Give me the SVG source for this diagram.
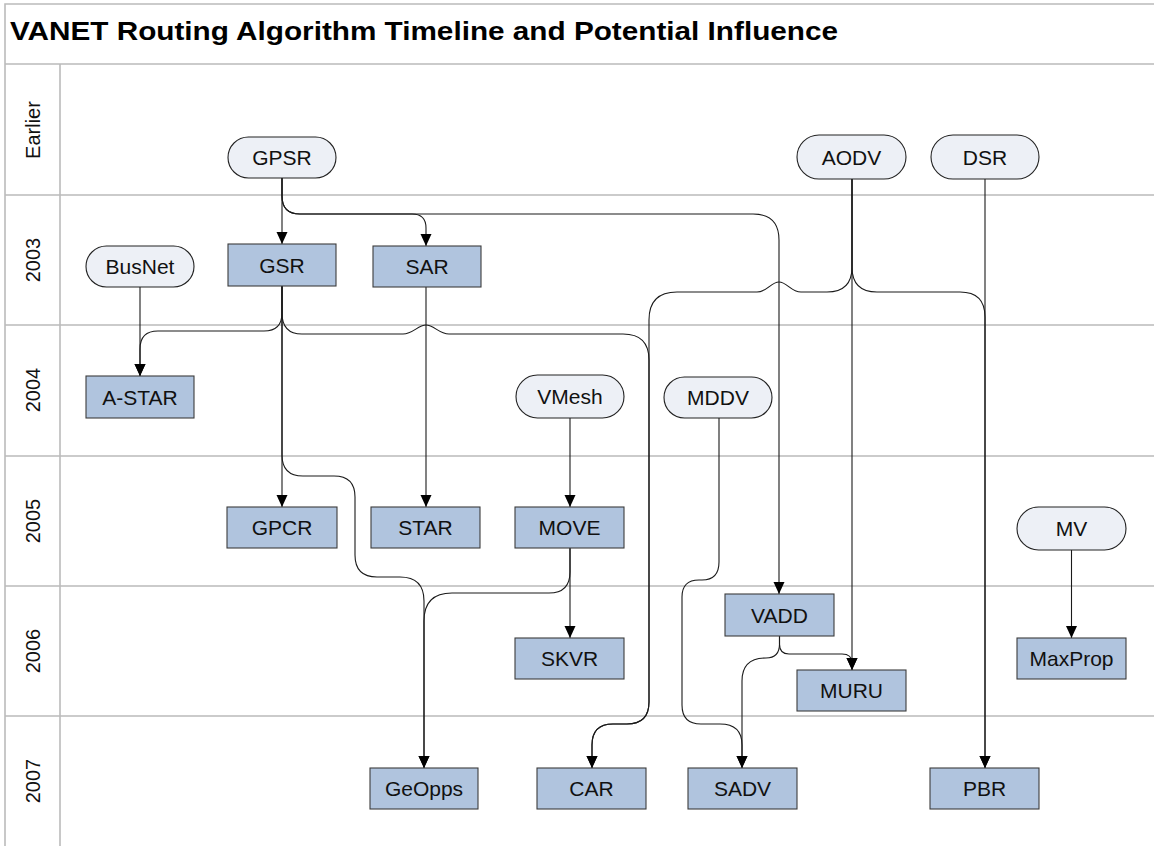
<svg xmlns="http://www.w3.org/2000/svg" width="1154" height="846" viewBox="0 0 1154 846">
<style>
.frame{stroke:#BBBBBB;stroke-width:1.6;fill:none}
.pill{fill:#EDF0F6;stroke:#222;stroke-width:1.1}
.box{fill:#B0C4DE;stroke:#3C3C3C;stroke-width:1.1}
.lbl{font-family:"Liberation Sans",Arial,sans-serif;font-size:21px;fill:#111;text-anchor:middle}
.lane{font-family:"Liberation Sans",Arial,sans-serif;font-size:20px;fill:#111;text-anchor:middle}
.title{font-family:"Liberation Sans",Arial,sans-serif;font-size:25px;font-weight:bold;fill:#000}
.c{fill:none;stroke:#1A1A1A;stroke-width:1.1}
</style>
<defs>
<marker id="arr" markerUnits="userSpaceOnUse" markerWidth="12" markerHeight="12" refX="12" refY="5.5" orient="auto">
<path d="M0,0 L12,5.5 L0,11 z" fill="#000"/>
</marker>
</defs>
<rect width="1154" height="846" fill="#fff"/>
<g id="frame">
<path class="frame" d="M5,846 V4 H1154 M5,64 H1154 M60,64 V846 M5,195 H1154 M5,325 H1154 M5,456 H1154 M5,586 H1154 M5,716 H1154"/>
<text class="title" x="10" y="40" textLength="828" lengthAdjust="spacingAndGlyphs">VANET Routing Algorithm Timeline and Potential Influence</text>
<text class="lane" transform="translate(40,130) rotate(-90)">Earlier</text>
<text class="lane" transform="translate(40,260) rotate(-90)">2003</text>
<text class="lane" transform="translate(40,390) rotate(-90)">2004</text>
<text class="lane" transform="translate(40,521) rotate(-90)">2005</text>
<text class="lane" transform="translate(40,651) rotate(-90)">2006</text>
<text class="lane" transform="translate(40,781) rotate(-90)">2007</text>
</g>
<g id="connectors">
<path class="c" d="M282,178 V244" marker-end="url(#arr)"/>
<path class="c" d="M282,178 V196 Q282,214 300,214 H412 Q426,214 426,228 V246" marker-end="url(#arr)"/>
<path class="c" d="M282,178 V196 Q282,214 300,214 H753 Q779,214 779,240 V594" marker-end="url(#arr)"/>
<path class="c" d="M140,287 V376" marker-end="url(#arr)"/>
<path class="c" d="M282,286 V313 Q282,331 264,331 H158 Q140,331 140,349 V376" marker-end="url(#arr)"/>
<path class="c" d="M282,286 V313 Q282,334 302,334 H403 C413,334 418,325 426,325 C434,325 439,334 449,334 H623 Q649,334 649,360 V702 Q649,724 627,724 H613 Q592,724 592,745 V768" marker-end="url(#arr)"/>
<path class="c" d="M282,286 V507" marker-end="url(#arr)"/>
<path class="c" d="M282,286 V455 Q282,476 303,476 H334 Q355,476 355,497 V555 Q355,577 377,577 H400 Q424,577 424,601 V768" marker-end="url(#arr)"/>
<path class="c" d="M426,287 V507" marker-end="url(#arr)"/>
<path class="c" d="M570,418 V507" marker-end="url(#arr)"/>
<path class="c" d="M570,548 V638" marker-end="url(#arr)"/>
<path class="c" d="M570,548 V572 Q570,593 549,593 H452 Q424,593 424,621 V768" marker-end="url(#arr)"/>
<path class="c" d="M852,179 V267 Q852,292 827,292 H801 C791,292 787,282 779,282 C771,282 767,292 757,292 H677 Q649,292 649,320 V702 Q649,724 627,724 H613 Q592,724 592,745 V768" marker-end="url(#arr)"/>
<path class="c" d="M852,179 V267 Q852,292 877,292 H960 Q985,292 985,317 V768" marker-end="url(#arr)"/>
<path class="c" d="M985,179 V768" marker-end="url(#arr)"/>
<path class="c" d="M852,179 V670" marker-end="url(#arr)"/>
<path class="c" d="M719,418 V562 Q719,580 702,580 H699 Q682,580 682,597 V705 Q682,724 701,724 H720 Q742,724 742,745 V768" marker-end="url(#arr)"/>
<path class="c" d="M779.5,636 V644 Q779.5,658 766,658 Q742,658 742,681 V768" marker-end="url(#arr)"/>
<path class="c" d="M779.5,636 V644 Q779.5,654 789,654 H842 Q852,654 852,663 V670" marker-end="url(#arr)"/>
<path class="c" d="M1071.5,550 V638" marker-end="url(#arr)"/>
</g>
<g id="GPSR"><rect class="pill" x="228" y="137" width="108" height="41" rx="20.5"/><text class="lbl" x="282" y="165">GPSR</text></g>
<g id="AODV"><rect class="pill" x="797" y="135" width="109" height="44" rx="22"/><text class="lbl" x="851.5" y="164.5">AODV</text></g>
<g id="DSR"><rect class="pill" x="931" y="135" width="108" height="44" rx="22"/><text class="lbl" x="985" y="164.5">DSR</text></g>
<g id="BusNet"><rect class="pill" x="86" y="246" width="108" height="41" rx="20.5"/><text class="lbl" x="140" y="274">BusNet</text></g>
<g id="VMesh"><rect class="pill" x="516" y="375" width="108" height="43" rx="21.5"/><text class="lbl" x="570" y="404">VMesh</text></g>
<g id="MDDV"><rect class="pill" x="664" y="377" width="108" height="41" rx="20.5"/><text class="lbl" x="718" y="405">MDDV</text></g>
<g id="MV"><rect class="pill" x="1017" y="507" width="109" height="43" rx="21.5"/><text class="lbl" x="1071.5" y="536">MV</text></g>
<g id="GSR"><rect class="box" x="228" y="244" width="108" height="42"/><text class="lbl" x="282" y="272.5">GSR</text></g>
<g id="SAR"><rect class="box" x="373" y="246" width="108" height="41"/><text class="lbl" x="427" y="274">SAR</text></g>
<g id="A-STAR"><rect class="box" x="86" y="376" width="108" height="42"/><text class="lbl" x="140" y="404.5">A-STAR</text></g>
<g id="GPCR"><rect class="box" x="227" y="507" width="110" height="41"/><text class="lbl" x="282" y="535">GPCR</text></g>
<g id="STAR"><rect class="box" x="371" y="507" width="109" height="41"/><text class="lbl" x="425.5" y="535">STAR</text></g>
<g id="MOVE"><rect class="box" x="515" y="507" width="109" height="41"/><text class="lbl" x="569.5" y="535">MOVE</text></g>
<g id="SKVR"><rect class="box" x="515" y="638" width="109" height="41"/><text class="lbl" x="569.5" y="666">SKVR</text></g>
<g id="VADD"><rect class="box" x="725" y="594" width="109" height="42"/><text class="lbl" x="779.5" y="622.5">VADD</text></g>
<g id="MURU"><rect class="box" x="797" y="670" width="109" height="41"/><text class="lbl" x="851.5" y="698">MURU</text></g>
<g id="MaxProp"><rect class="box" x="1017" y="638" width="109" height="41"/><text class="lbl" x="1071.5" y="666">MaxProp</text></g>
<g id="GeOpps"><rect class="box" x="370" y="768" width="108" height="41"/><text class="lbl" x="424" y="796">GeOpps</text></g>
<g id="CAR"><rect class="box" x="537" y="768" width="109" height="41"/><text class="lbl" x="591.5" y="796">CAR</text></g>
<g id="SADV"><rect class="box" x="688" y="768" width="109" height="41"/><text class="lbl" x="742.5" y="796">SADV</text></g>
<g id="PBR"><rect class="box" x="930" y="768" width="109" height="41"/><text class="lbl" x="984.5" y="796">PBR</text></g>
</svg>
